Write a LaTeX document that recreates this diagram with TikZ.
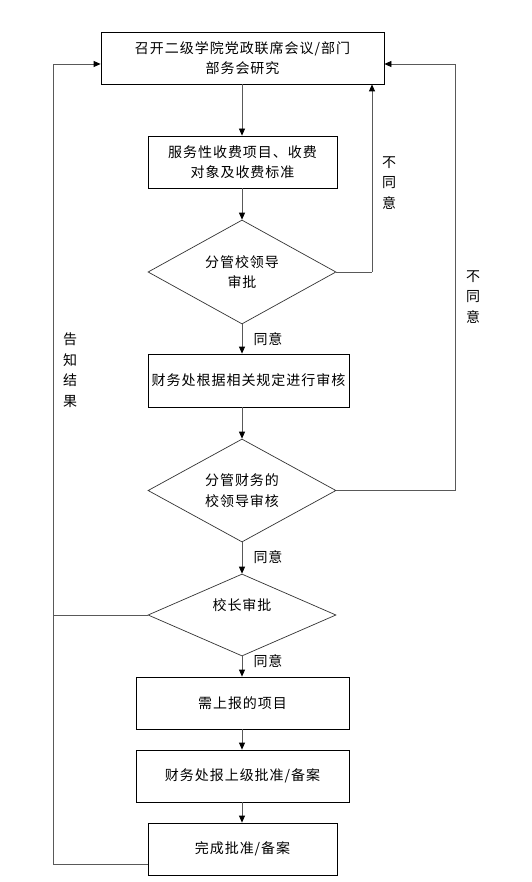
\documentclass[tikz,border=0pt]{standalone}
\usepackage{fontspec}
\setmainfont[LetterSpace=7]{Noto Sans CJK SC}
\usetikzlibrary{shapes.geometric,arrows.meta}
\begin{document}
\begin{tikzpicture}[x=1pt,y=-1pt,
  every node/.style={font=\fontsize{14}{20.5}\selectfont},
  box/.style={draw=black, line width=0.8pt, minimum width=#1, minimum height=52pt, inner sep=0pt, align=center},
  dia/.style={draw=black!80, line width=0.7pt, diamond, shape aspect=1.8, minimum width=188pt, minimum height=#1, inner sep=0pt, align=center},
  arr/.style={draw=black!65, line width=0.8pt, -{Triangle[length=7pt,width=6pt,color=black]}},
  ln/.style={draw=black!65, line width=0.8pt},
  lbl/.style={inner sep=0pt, align=center}]
\useasboundingbox (0,0) rectangle (531,882);
\fill[white] (0,0) rectangle (531,882);

\node[box=283pt] (b1) at (242.5,58) {召开二级学院党政联席会议/部门\\部务会研究};
\node[box=189pt] (b2) at (242.5,162) {服务性收费项目、收费\\对象及收费标准};
\node[dia=104pt] (d1) at (242,272) {分管校领导\\审批};
\node[box=201pt, minimum height=53pt] (b3) at (248.5,380.5) {财务处根据相关规定进行审核};
\node[dia=103pt] (d2) at (242,490.5) {分管财务的\\校领导审核};
\node[dia=82pt] (d3) at (242,615) {校长审批\\\mbox{}};
\node[box=213pt] (b4) at (242.5,703) {需上报的项目};
\node[box=213pt] (b5) at (242.5,776) {财务处报上级批准/备案};
\node[box=189pt] (b6) at (242.5,849) {完成批准/备案};

\coordinate (r1) at (372,272);
\coordinate (r2) at (455,64);
\coordinate (l1) at (53,64);
\coordinate (l2) at (53,864);

% main vertical flow
\draw[arr] (b1.south -| d1.north) -- (b2.north -| d1.north);
\draw[arr] (b2.south -| d1.north) -- (d1.north);
\draw[arr] (d1.south) -- (d1.south |- b3.north);
\draw[arr] (b3.south -| d2.north) -- (d2.north);
\draw[arr] (d2.south) -- (d3.north);
\draw[arr] (d3.south) -- (d3.south |- b4.north);
\draw[arr] (b4.south -| d3.south) -- (b5.north -| d3.south);
\draw[arr] (b5.south -| d3.south) -- (b6.north -| d3.south);

% disagree loops
\draw[ln] (d1.east) -- (r1);
\draw[arr] (r1) -- (r1 |- b1.south);
\draw[ln] (d2.east) -| (r2);
\draw[arr] (r2) -- (r2 -| b1.east);

% notify result loop
\draw[ln] (d3.west) -- (d3.west -| l1);
\draw[ln] (b6.west |- l2) -- (l2);
\draw[arr] (l2) -- (l1) -- (l1 -| b1.west);

% labels
\node[lbl] (t1) at (268,339) {同意};
\node[lbl] (t2) at (268,557) {同意};
\node[lbl] (t3) at (268,661) {同意};
\node[lbl] (n1) at (389,183) {不\\同\\意};
\node[lbl] (n2) at (473,297) {不\\同\\意};
\node[lbl] (g1) at (70,370) {告\\知\\结\\果};
\end{tikzpicture}
\end{document}
